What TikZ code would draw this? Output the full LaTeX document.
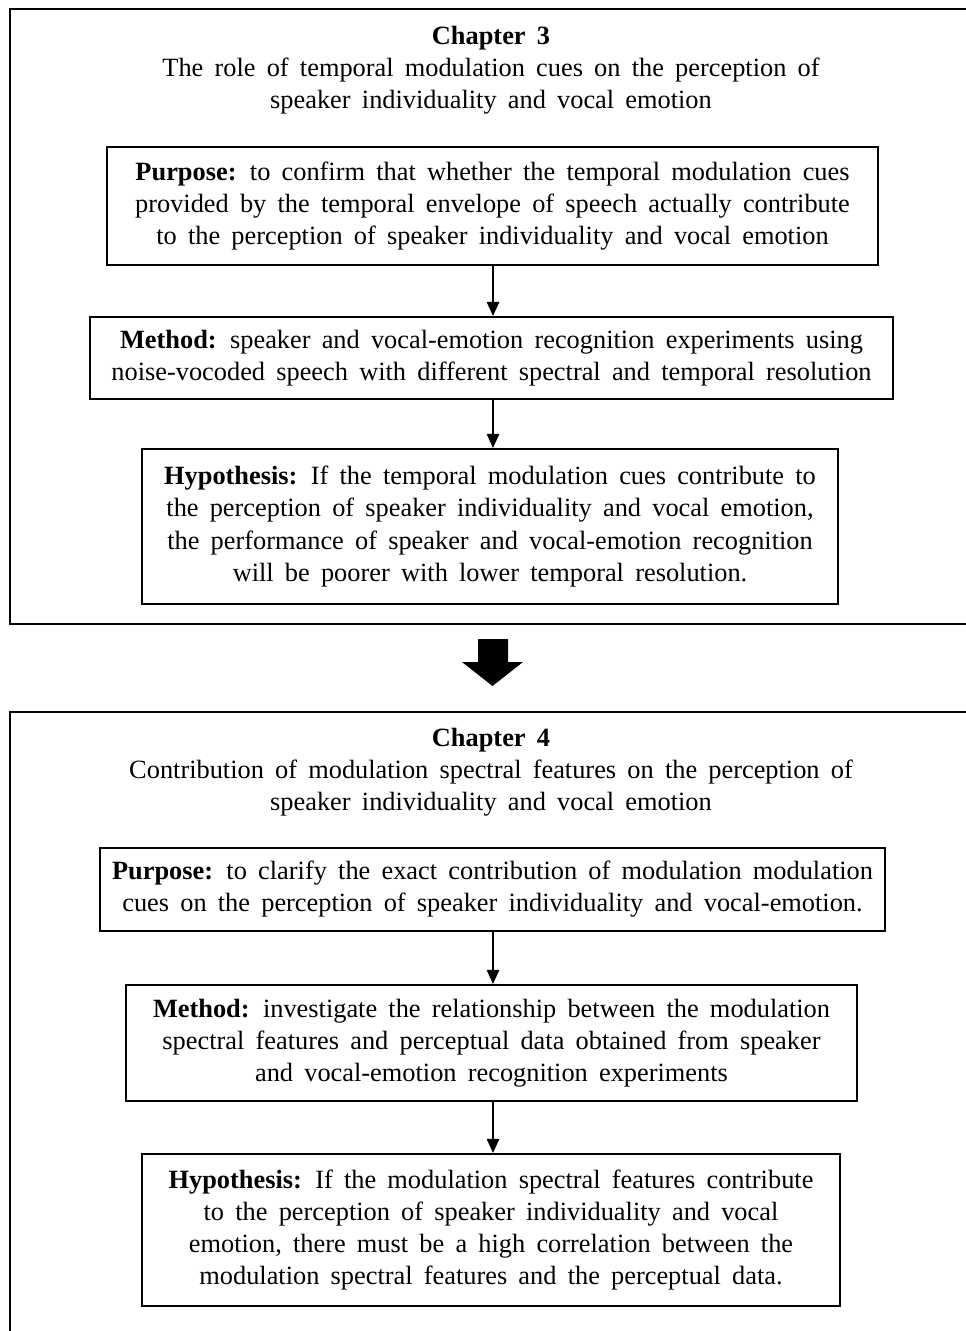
\documentclass[tikz,border=0pt]{standalone}
\usepackage{fontspec}
\setmainfont[WordSpace=1.7]{Liberation Serif}
\usetikzlibrary{positioning,arrows.meta}
\tikzset{
  stepbox/.style={draw, line width=1.1pt, align=center, inner sep=0pt,
    anchor=north, font=\fontsize{15}{18.3}\selectfont},
  chaptitle/.style={align=center, font=\fontsize{15}{18.3}\selectfont},
  link/.style={-{Triangle[length=8pt,width=7pt]}, line width=0.9pt},
}
\begin{document}
\begin{tikzpicture}
  \clip (0,0) rectangle (19.32,-26.62);
  % Chapter 3 frame (open on the right)
  \draw[line width=1.1pt] (19.6,-0.18) -- (0.2,-0.18) -- (0.2,-12.48) -- (19.6,-12.48);
  \node[chaptitle] (title3) at (9.82,-1.4)
    {\textbf{Chapter 3}\\The role of temporal modulation cues on the perception of\\speaker individuality and vocal emotion};
  \node[stepbox, minimum width=15.42cm, minimum height=2.36cm] (purpose3) at (9.85,-2.92)
    {\textbf{Purpose:} to confirm that whether the temporal modulation cues\\provided by the temporal envelope of speech actually contribute\\to the perception of speaker individuality and vocal emotion};
  \node[stepbox, minimum width=16.06cm, minimum height=1.64cm] (method3) at (9.83,-6.32)
    {\textbf{Method:} speaker and vocal-emotion recognition experiments using\\noise-vocoded speech with different spectral and temporal resolution};
  \node[stepbox, minimum width=13.92cm, minimum height=3.1cm] (hypo3) at (9.8,-8.96)
    {\textbf{Hypothesis:} If the temporal modulation cues contribute to\\the perception of speaker individuality and vocal emotion,\\the performance of speaker and vocal-emotion recognition\\will be poorer with lower temporal resolution.};
  \draw[link] (purpose3.south -| 9.86,0) -- (method3.north -| 9.86,0);
  \draw[link] (method3.south -| 9.86,0) -- (hypo3.north -| 9.86,0);
  % Block arrow between chapters
  \fill (9.56,-12.78) -- (10.16,-12.78) -- (10.16,-13.24) -- (10.46,-13.24)
    -- (9.85,-13.72) -- (9.24,-13.24) -- (9.56,-13.24) -- cycle;
  % Chapter 4 frame (open on the right and bottom)
  \draw[line width=1.1pt] (19.6,-14.24) -- (0.2,-14.24) -- (0.2,-26.8);
  \node[chaptitle] (title4) at (9.82,-15.44)
    {\textbf{Chapter 4}\\Contribution of modulation spectral features on the perception of\\speaker individuality and vocal emotion};
  \node[stepbox, minimum width=15.7cm, minimum height=1.66cm] (purpose4) at (9.85,-16.94)
    {\textbf{Purpose:} to clarify the exact contribution of modulation modulation\\cues on the perception of speaker individuality and vocal-emotion.};
  \node[stepbox, minimum width=14.62cm, minimum height=2.32cm] (method4) at (9.83,-19.68)
    {\textbf{Method:} investigate the relationship between the modulation\\spectral features and perceptual data obtained from speaker\\and vocal-emotion recognition experiments};
  \node[stepbox, minimum width=13.96cm, minimum height=3.04cm] (hypo4) at (9.82,-23.06)
    {\textbf{Hypothesis:} If the modulation spectral features contribute\\to the perception of speaker individuality and vocal\\emotion, there must be a high correlation between the\\modulation spectral features and the perceptual data.};
  \draw[link] (purpose4.south -| 9.86,0) -- (method4.north -| 9.86,0);
  \draw[link] (method4.south -| 9.86,0) -- (hypo4.north -| 9.86,0);
\end{tikzpicture}
\end{document}
